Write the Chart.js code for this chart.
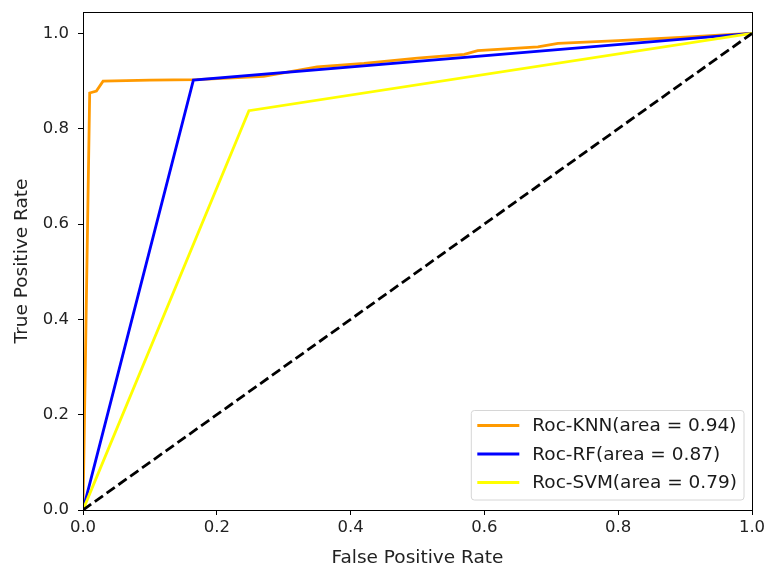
<!DOCTYPE html>
<html>
<head>
<meta charset="utf-8">
<script src="https://cdn.jsdelivr.net/npm/chart.js@4/dist/chart.umd.min.js"></script>
<style>
  html, body { margin: 0; padding: 0; background: #fff; }
  #wrap { width: 769px; height: 572px; }
</style>
</head>
<body>
<div id="wrap"><canvas id="roc" width="769" height="572"></canvas></div>
<script>
// ROC curves
var knnFpr = [0, 0.01, 0.02, 0.03, 0.10, 0.17, 0.27, 0.35, 0.42, 0.50, 0.57, 0.59, 0.68, 0.71, 0.80, 0.90, 0.97, 1.0];
var knnTpr = [0, 0.875, 0.879, 0.900, 0.902, 0.903, 0.910, 0.930, 0.937, 0.948, 0.956, 0.964, 0.972, 0.979, 0.985, 0.992, 0.998, 1.0];
var rfFpr = [0, 0.165, 1.0];
var rfTpr = [0, 0.902, 1.0];
var svmFpr = [0, 0.248, 1.0];
var svmTpr = [0, 0.838, 1.0];
var chanceFpr = [0, 1];
var chanceTpr = [0, 1];

var seriesLabels = ["Roc-KNN(area = 0.94)", "Roc-RF(area = 0.87)", "Roc-SVM(area = 0.79)"];
var tickValues = [0, 0.2, 0.4, 0.6, 0.8, 1.0];

function pts(xs, ys) {
  return xs.map(function (x, i) { return { x: x, y: ys[i] }; });
}

var FONT = "'DejaVu Sans', sans-serif";
var TICK_SIZE = 16.5;
var LABEL_SIZE = 18.5;

// legend drawn inside the plot, lower right, like matplotlib
var innerLegend = {
  id: 'innerLegend',
  afterDraw: function (chart) {
    var ctx = chart.ctx, area = chart.chartArea;
    var items = chart.data.datasets.filter(function (d) { return d.inLegend; });
    ctx.save();
    ctx.font = LABEL_SIZE + "px " + FONT;
    var tw = 0;
    items.forEach(function (d) { tw = Math.max(tw, ctx.measureText(d.label).width); });
    var rowH = 28.5, w = 8 + 40 + 12 + tw + 8, h = items.length * rowH + 4;
    var x0 = area.right - 8 - w, y0 = area.bottom - 10 - h;
    ctx.beginPath();
    if (ctx.roundRect) ctx.roundRect(x0, y0, w, h, 3); else ctx.rect(x0, y0, w, h);
    ctx.fillStyle = 'rgba(255,255,255,0.8)';
    ctx.fill();
    ctx.strokeStyle = '#d6d6d6';
    ctx.lineWidth = 1;
    ctx.stroke();
    items.forEach(function (d, i) {
      var cy = y0 + 15 + i * rowH;
      ctx.beginPath();
      ctx.moveTo(x0 + 6, cy);
      ctx.lineTo(x0 + 48, cy);
      ctx.strokeStyle = d.borderColor;
      ctx.lineWidth = 2.8;
      ctx.stroke();
      ctx.fillStyle = '#1a1a1a';
      ctx.textBaseline = 'middle';
      ctx.fillText(d.label, x0 + 61, cy + 1);
    });
    ctx.restore();
  }
};

// full black frame around the axes
var frame = {
  id: 'frame',
  afterDatasetsDraw: function (chart) {
    var ctx = chart.ctx, a = chart.chartArea;
    ctx.save();
    ctx.strokeStyle = '#000';
    ctx.lineWidth = 1;
    ctx.strokeRect(Math.round(a.left) + 0.5, Math.round(a.top) + 0.5,
      Math.round(a.right - a.left), Math.round(a.bottom - a.top));
    ctx.restore();
  }
};

function keepTicks(scale) {
  scale.ticks = tickValues.map(function (v) { return { value: v }; });
}

new Chart(document.getElementById('roc').getContext('2d'), {
  type: 'scatter',
  data: {
    datasets: [
      { label: seriesLabels[0], data: pts(knnFpr, knnTpr), borderColor: '#ff9a00', order: 3, inLegend: true },
      { label: seriesLabels[1], data: pts(rfFpr, rfTpr), borderColor: '#0000ff', order: 2, inLegend: true },
      { label: seriesLabels[2], data: pts(svmFpr, svmTpr), borderColor: '#ffff00', order: 1, inLegend: true },
      { label: 'chance', data: pts(chanceFpr, chanceTpr), borderColor: '#000000', borderDash: [10, 4.5], order: 0, inLegend: false }
    ]
  },
  options: {
    responsive: false,
    animation: false,
    showLine: true,
    elements: {
      point: { radius: 0, hoverRadius: 0 },
      line: { borderWidth: 2.8, tension: 0, fill: false, borderCapStyle: 'butt' }
    },
    layout: { padding: { left: 0, top: 12, right: 17, bottom: 0 } },
    plugins: {
      legend: { display: false },
      tooltip: { enabled: false }
    },
    scales: {
      x: {
        type: 'linear',
        min: 0, max: 1,
        afterBuildTicks: keepTicks,
        afterFit: function (s) { s.height = 62; s.paddingLeft = 0; s.paddingRight = 0; },
        grid: { drawOnChartArea: false, drawTicks: true, tickLength: 5, tickColor: '#000' },
        border: { display: true, color: '#000' },
        ticks: {
          color: '#222', padding: 3,
          font: { family: FONT, size: TICK_SIZE },
          callback: function (v) { return v.toFixed(1); }
        },
        title: {
          display: true, text: 'False Positive Rate', color: '#222',
          font: { family: FONT, size: LABEL_SIZE }, padding: { top: 0, bottom: 3 }
        }
      },
      y: {
        type: 'linear',
        min: 0, max: 1.045,
        afterBuildTicks: keepTicks,
        afterFit: function (s) { s.width = 83; s.paddingTop = 0; s.paddingBottom = 0; },
        grid: { drawOnChartArea: false, drawTicks: true, tickLength: 5, tickColor: '#000' },
        border: { display: true, color: '#000' },
        ticks: {
          color: '#222', padding: 9,
          font: { family: FONT, size: TICK_SIZE },
          callback: function (v) { return v.toFixed(1); }
        },
        title: {
          display: true, text: 'True Positive Rate', color: '#222',
          font: { family: FONT, size: LABEL_SIZE }, padding: { top: 11, bottom: 0 }
        }
      }
    }
  },
  plugins: [frame, innerLegend]
});
</script>
</body>
</html>
